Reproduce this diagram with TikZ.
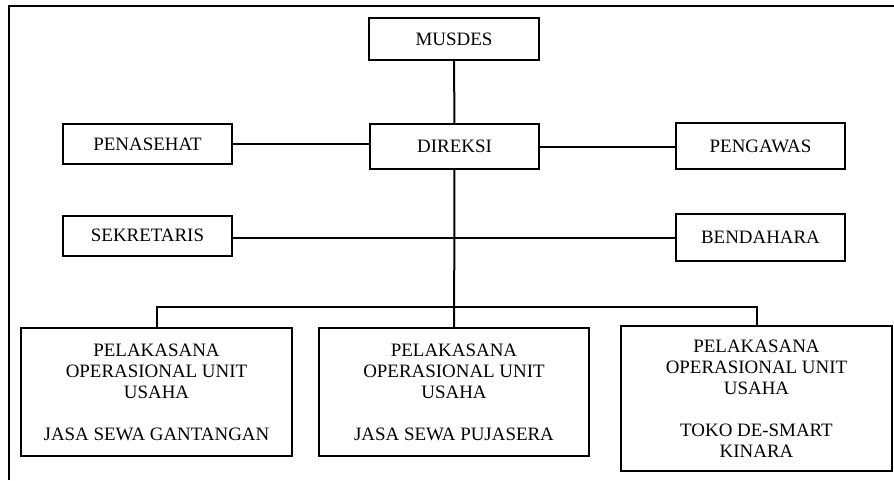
\documentclass[tikz,border=0pt]{standalone}
\usepackage{fontspec}
\setmainfont{Liberation Serif}
\usetikzlibrary{calc}

\tikzset{box/.style={draw,line width=1.5pt,align=center,inner sep=0pt,
    minimum width=127pt,font=\fontsize{14.2}{15.75}\selectfont},
  unit/.style={box,minimum width=203pt}}

\begin{document}
\begin{tikzpicture}[x=0.75pt,y=-0.75pt,line width=1.5pt]
        \useasboundingbox (0,0) rectangle (894,480);
        \draw (9,480) -- (9,6) -- (894,6);
        \begin{scope}
          \node[box,minimum height=31.5pt] (MUS) at (454,39) {MUSDES};
          \node[box,minimum height=33.75pt] (DIR) at (454.5,146.5) {DIREKSI};
          \node[box,minimum height=30pt] (PEN) at (147.5,144) {PENASEHAT};
          \node[box,minimum height=34.5pt] (PGW) at (760.5,146) {PENGAWAS};
          \node[box,minimum height=30pt] (SEK) at (147.5,235.5) {SEKRETARIS};
          \node[box,minimum height=35.25pt] (BEN) at (760.5,237.5) {BENDAHARA};
          \node[unit,minimum height=96pt] (U1) at (156.5,392)
            {PELAKASANA\\OPERASIONAL UNIT\\USAHA\\[15.75pt]JASA SEWA GANTANGAN};
          \node[unit,minimum height=96pt] (U2) at (454,392)
            {PELAKASANA\\OPERASIONAL UNIT\\USAHA\\[15.75pt]JASA SEWA PUJASERA};
          \node[unit,minimum height=108.75pt] (U3) at (756.5,398.5)
            {PELAKASANA\\OPERASIONAL UNIT\\USAHA\\[15.75pt]TOKO DE-SMART\\KINARA};
          \coordinate (BUS) at (454,307);

          \draw (MUS) -- (DIR);
          \draw (PEN.east) -- (PEN.east -| DIR.west);
          \draw (DIR.east) -- (DIR.east -| PGW.west);
          \draw ($(SEK.east)+(0,2)$) -- ($(SEK.east -| BEN.west)+(0,2)$);
          \draw (DIR) -- (U2);
          \draw (U1.north) -- (U1.north |- BUS) -- (U3.north |- BUS) -- (U3.north);
        \end{scope}
      \end{tikzpicture}
\end{document}
